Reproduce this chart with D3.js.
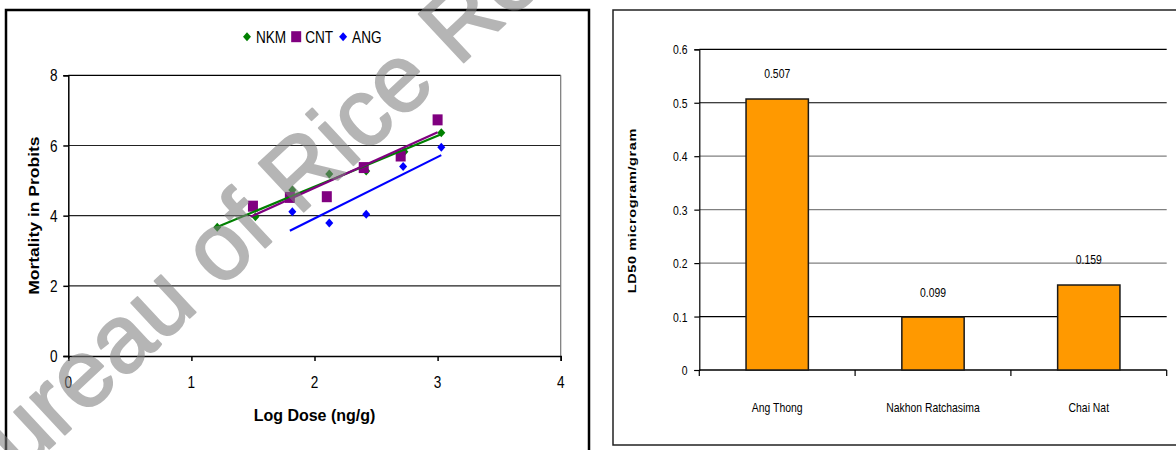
<!DOCTYPE html>
<html>
<head>
<meta charset="utf-8">
<script src="https://cdn.jsdelivr.net/npm/d3@7/dist/d3.min.js"></script>
<style>
  body { margin: 0; background: #fff; }
  svg { display: block; font-family: "Liberation Sans", Arial, sans-serif; }
</style>
</head>
<body>
<div id="chart-location"></div>
<script>
// (DATA) left chart - probit mortality vs log dose
var nkmDose   = [1.21, 1.52, 1.82, 2.12, 2.42, 2.73, 3.03];
var nkmProbit = [3.67, 3.97, 4.73, 5.19, 5.27, 5.82, 6.36];
var cntDose   = [1.50, 1.80, 2.10, 2.40, 2.70, 3.00];
var cntProbit = [4.27, 4.52, 4.54, 5.37, 5.70, 6.73];
var angDose   = [1.82, 2.12, 2.42, 2.72, 3.03];
var angProbit = [4.11, 3.79, 4.04, 5.40, 5.95];
var seriesNames = ["NKM", "CNT", "ANG"];
var doseTicks = [0, 1, 2, 3, 4];
var probitTicks = [0, 2, 4, 6, 8];

// (DATA) right chart - LD50 per province
var provinces = ["Ang Thong", "Nakhon Ratchasima", "Chai Nat"];
var ld50 = [0.507, 0.099, 0.159];
var ld50Labels = ["0.507", "0.099", "0.159"];
var ld50Ticks = [0, 0.1, 0.2, 0.3, 0.4, 0.5, 0.6];

function init () {
    var w = 1176;
    var h = 450;
    // the picture is squeezed sideways, so plain text is narrowed a bit
    var squeeze = 0.8;

    var svg = d3.select("#chart-location")
        .append("svg")
        .attr("width", w)
        .attr("height", h);

    // helper: text placed with translate + horizontal squeeze
    function label(g, x, y, txt, size, anchor, sx, bold) {
        return g.append("text")
            .attr("transform", "translate(" + x + "," + y + ") scale(" + sx + ",1)")
            .attr("text-anchor", anchor)
            .attr("dominant-baseline", "central")
            .attr("font-size", size)
            .attr("font-weight", bold ? "bold" : "normal")
            .attr("fill", "#000")
            .text(txt);
    }

    // ---------------- LEFT CHART ----------------
    var left = svg.append("g");
    left.append("rect")
        .attr("x", 6).attr("y", 10)
        .attr("width", 583).attr("height", 470)
        .attr("fill", "none")
        .attr("stroke", "#000")
        .attr("stroke-width", 2.5);

    var xScale = d3.scaleLinear().domain([0, 4]).range([68.3, 560.7]);
    var yScale = d3.scaleLinear().domain([0, 8]).range([356, 75.3]);

    // gridlines
    left.selectAll(".grid")
        .data(probitTicks.filter(function(d) { return d > 0; }))
        .enter()
        .append("line")
        .attr("x1", xScale(0)).attr("x2", xScale(4))
        .attr("y1", function(d) { return yScale(d); })
        .attr("y2", function(d) { return yScale(d); })
        .attr("stroke", function(d) { return d == 8 ? "#000" : "#222"; })
        .attr("stroke-width", 1.2);
    // right border of plot area
    left.append("line")
        .attr("x1", xScale(4)).attr("x2", xScale(4))
        .attr("y1", yScale(8)).attr("y2", yScale(0))
        .attr("stroke", "#777").attr("stroke-width", 1.2);

    // axes
    var xAxis = d3.axisBottom(xScale).tickValues(doseTicks).tickSize(5).tickFormat("");
    left.append("g")
        .attr("transform", "translate(0," + yScale(0) + ")")
        .call(xAxis)
        .call(function(g) { g.selectAll("path,line").attr("stroke", "#000").attr("stroke-width", 1.5); });
    var yAxis = d3.axisLeft(yScale).tickValues(probitTicks).tickSize(5).tickFormat("");
    left.append("g")
        .attr("transform", "translate(" + xScale(0) + ",0)")
        .call(yAxis)
        .call(function(g) { g.selectAll("path,line").attr("stroke", "#000").attr("stroke-width", 1.5); });

    doseTicks.forEach(function(d) {
        label(left, xScale(d), 381.5, d, 17, "middle", squeeze, false);
    });
    probitTicks.forEach(function(d) {
        label(left, 57.5, yScale(d), d, 17, "end", squeeze, false);
    });

    // axis titles
    label(left, xScale(2), 415, "Log Dose (ng/g)", 16, "middle", 1, true);
    left.append("text")
        .attr("transform", "translate(33.5," + ((yScale(0) + yScale(8)) / 2) + ") scale(0.85,1) rotate(-90)")
        .attr("text-anchor", "middle")
        .attr("dominant-baseline", "central")
        .attr("font-size", 17.5)
        .attr("font-weight", "bold")
        .text("Mortality in Probits");

    // series
    var series = [
        { name: seriesNames[0], x: nkmDose, y: nkmProbit, color: "#008000", shape: "diamond" },
        { name: seriesNames[1], x: cntDose, y: cntProbit, color: "#800080", shape: "square" },
        { name: seriesNames[2], x: angDose, y: angProbit, color: "#0000ff", shape: "diamond" }
    ];

    function marker(g, shape, color, cx, cy) {
        if (shape == "square") {
            g.append("rect")
                .attr("x", cx - 5).attr("y", cy - 5.5)
                .attr("width", 10).attr("height", 11)
                .attr("fill", color);
        } else {
            g.append("path")
                .attr("d", "M" + cx + "," + (cy - 4.5) + "L" + (cx + 4) + "," + cy +
                    "L" + cx + "," + (cy + 4.5) + "L" + (cx - 4) + "," + cy + "Z")
                .attr("fill", color);
        }
    }

    series.forEach(function(s) {
        s.x.forEach(function(d, i) {
            marker(left, s.shape, s.color, xScale(d), yScale(s.y[i]));
        });
    });

    // linear trend lines (least squares over each series)
    series.forEach(function(s) {
        var mx = d3.mean(s.x);
        var my = d3.mean(s.y);
        var sxy = d3.sum(s.x, function(d, i) { return (d - mx) * (s.y[i] - my); });
        var sxx = d3.sum(s.x, function(d) { return (d - mx) * (d - mx); });
        var slope = sxy / sxx;
        var x0 = d3.min(s.x) - 0.02;
        var x1 = d3.max(s.x);
        left.append("line")
            .attr("x1", xScale(x0)).attr("y1", yScale(my + slope * (x0 - mx)))
            .attr("x2", xScale(x1)).attr("y2", yScale(my + slope * (x1 - mx)))
            .attr("stroke", s.color)
            .attr("stroke-width", 2.2);
    });

    // legend
    var lx = 247;
    series.forEach(function(s) {
        marker(left, s.shape, s.color, lx, 36.7);
        var t = label(left, lx + 9, 36.7, s.name, 17, "start", squeeze, false);
        lx += 9 + t.node().getComputedTextLength() * squeeze + 10;
    });

    // ---------------- RIGHT CHART ----------------
    var right = svg.append("g");
    right.append("rect")
        .attr("x", 613).attr("y", 10)
        .attr("width", 600).attr("height", 435)
        .attr("fill", "none")
        .attr("stroke", "#222")
        .attr("stroke-width", 1.5);

    var bx = d3.scaleBand()
        .domain(provinces)
        .range([699.3, 1166.7])
        .paddingInner(0.6)
        .paddingOuter(0.3);
    var by = d3.scaleLinear().domain([0, 0.6]).range([370, 49.3]);

    right.selectAll(".grid")
        .data(ld50Ticks.filter(function(d) { return d > 0; }))
        .enter()
        .append("line")
        .attr("x1", 699.3).attr("x2", 1166.7)
        .attr("y1", function(d) { return by(d); })
        .attr("y2", function(d) { return by(d); })
        .attr("stroke", function(d) { return (d > 0.15 && d < 0.45) ? "#808080" : "#000"; })
        .attr("stroke-width", 1.2);

    var yAxisR = d3.axisLeft(by).tickValues(ld50Ticks).tickSize(5).tickFormat("");
    right.append("g")
        .attr("transform", "translate(699.3,0)")
        .call(yAxisR)
        .call(function(g) { g.selectAll("path,line").attr("stroke", "#000").attr("stroke-width", 1.2); });

    // x axis with ticks on category boundaries
    var bounds = provinces.map(function(d) { return bx(d) - bx.step() * 0.3; });
    bounds.push(1166.7);
    right.append("line")
        .attr("x1", 699.3).attr("x2", 1166.7)
        .attr("y1", by(0)).attr("y2", by(0))
        .attr("stroke", "#000").attr("stroke-width", 1.5);
    right.selectAll(".xtick")
        .data(bounds)
        .enter()
        .append("line")
        .attr("x1", function(d) { return d; }).attr("x2", function(d) { return d; })
        .attr("y1", by(0)).attr("y2", by(0) + 6)
        .attr("stroke", "#000").attr("stroke-width", 1.2);

    ld50Ticks.forEach(function(d) {
        label(right, 687.5, by(d), d, 13, "end", squeeze, false);
    });

    right.selectAll(".bar")
        .data(ld50)
        .enter()
        .append("rect")
        .attr("x", function(d, i) { return bx(provinces[i]); })
        .attr("y", function(d) { return by(d); })
        .attr("width", bx.bandwidth())
        .attr("height", function(d) { return by(0) - by(d); })
        .attr("fill", "#ff9900")
        .attr("stroke", "#1a1a1a")
        .attr("stroke-width", 1.5);

    ld50.forEach(function(d, i) {
        label(right, bx(provinces[i]) + bx.bandwidth() / 2, by(d) - 25.5, ld50Labels[i], 13, "middle", squeeze, false);
        label(right, bx(provinces[i]) + bx.bandwidth() / 2, 407, provinces[i], 13, "middle", squeeze, false);
    });

    right.append("text")
        .attr("transform", "translate(632," + ((by(0) + by(0.6)) / 2 + 1) + ") scale(0.8,1) rotate(-90)")
        .attr("text-anchor", "middle")
        .attr("dominant-baseline", "central")
        .attr("font-size", 14.5)
        .attr("font-weight", "bold")
        .attr("letter-spacing", 0.6)
        .text("LD50 microgram/gram");

    // watermark across the left panel
    svg.append("text")
        .attr("transform", "translate(-26,519) rotate(-43)")
        .attr("font-size", 96)
        .attr("fill", "#808080")
        .attr("stroke", "#808080")
        .attr("stroke-width", 2)
        .attr("stroke-linejoin", "round")
        .attr("opacity", 0.58)
        .text("Bureau of Rice Research");
}

window.onload = init;
</script>
</body>
</html>
